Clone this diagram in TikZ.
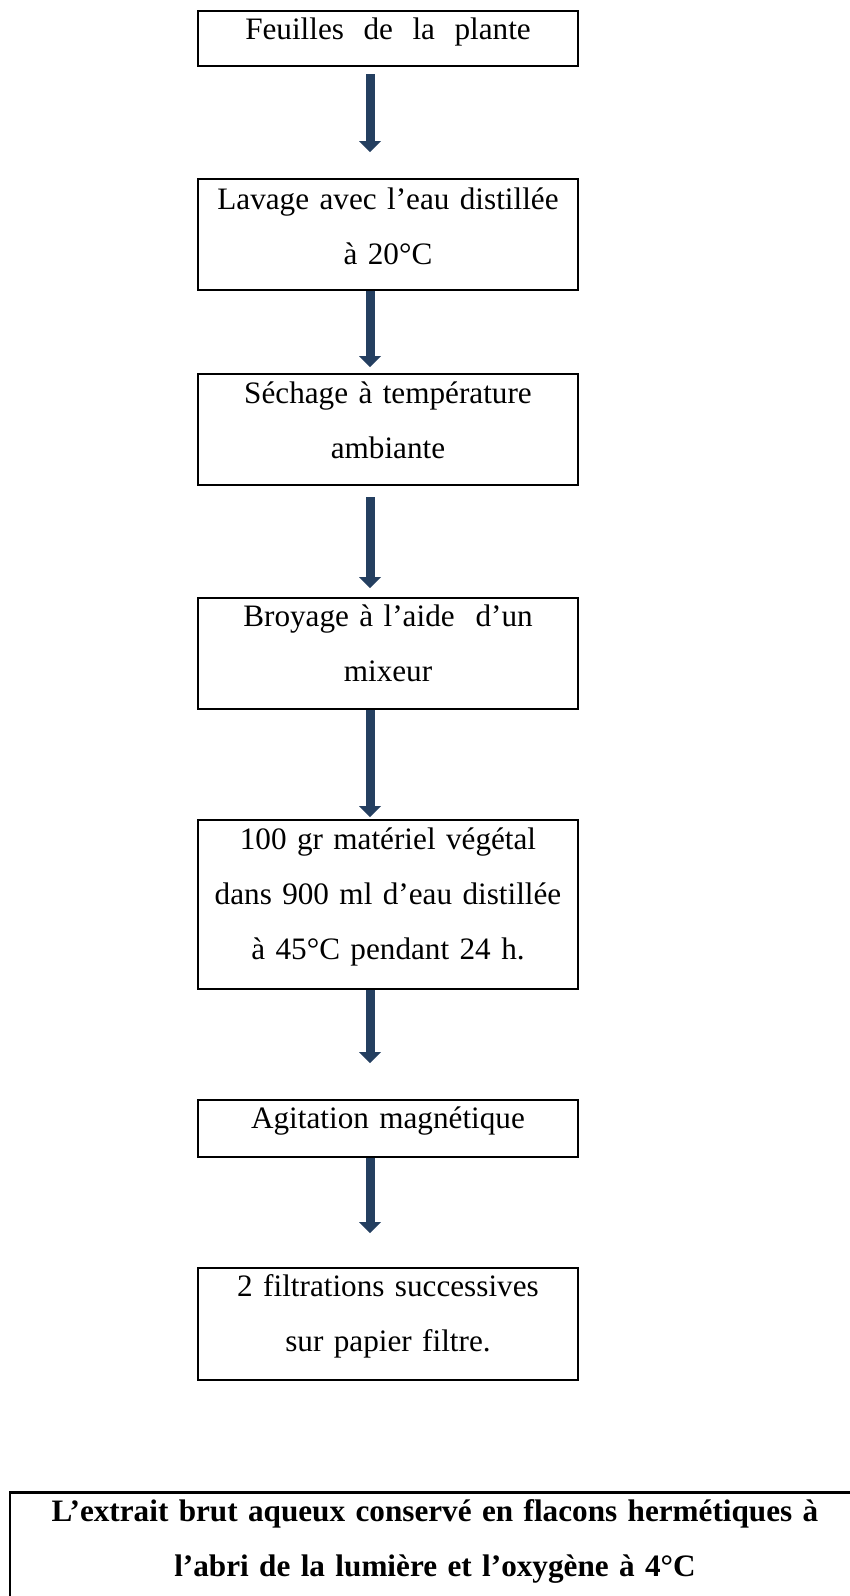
\documentclass[tikz,border=0pt]{standalone}
\usepackage{fontspec}
\setmainfont{Liberation Serif}
\usetikzlibrary{arrows.meta}
\definecolor{flownavy}{RGB}{36,63,96}
\tikzset{
  stepbox/.style={draw=black, line width=2pt, inner sep=0pt, anchor=north,
    text width=380pt, align=center, font=\fontsize{31.2}{55}\selectfont},
  flowarrow/.style={draw=flownavy, line width=9pt,
    -{Triangle[width=22pt,length=11pt,line width=0pt]}},
}
\begin{document}
\begin{tikzpicture}[x=1pt,y=-1pt]
  \useasboundingbox (0,0) rectangle (850,1596);
  \clip (0,0) rectangle (850,1596);

  % process steps
  \node[stepbox, text height=28pt, text depth=27pt] (b1) at (388,10)
    {{\spaceskip=19.5pt Feuilles de la plante}};
  \node[stepbox, text height=30pt, text depth=81pt] (b2) at (388,178)
    {Lavage avec l’eau distillée\\à 20°C};
  \node[stepbox, text height=29pt, text depth=82pt] (b3) at (388,373)
    {Séchage à température\\ambiante};
  \node[stepbox, text height=28pt, text depth=83pt] (b4) at (388,597)
    {Broyage à l’aide \ d’un\\mixeur};
  \node[stepbox, text height=29pt, text depth=140pt] (b5) at (388,819)
    {100 gr matériel végétal\\dans 900 ml d’eau distillée\\à 45°C pendant 24 h.};
  \node[stepbox, text height=28pt, text depth=29pt] (b6) at (388,1099)
    {Agitation magnétique};
  \node[stepbox, text height=28pt, text depth=84pt] (b7) at (388,1267)
    {2 filtrations successives\\sur papier filtre.};

  % final product
  \node[stepbox, line width=2.5pt, text width=850pt,
        font=\fontsize{31.2}{55}\selectfont\bfseries,
        text height=29pt, text depth=83pt] (b8) at (435,1491)
    {L’extrait brut aqueux conservé en flacons hermétiques à\\l’abri de la lumière et l’oxygène à 4°C};

  % block arrows between the steps
  \draw[flowarrow] ([xshift=-18pt,yshift=-7pt]b1.south) -- ([xshift=-18pt,yshift=26pt]b2.north);
  \draw[flowarrow] ([xshift=-18pt]b2.south) -- ([xshift=-18pt,yshift=6pt]b3.north);
  \draw[flowarrow] ([xshift=-18pt,yshift=-11pt]b3.south) -- ([xshift=-18pt,yshift=9pt]b4.north);
  \draw[flowarrow] ([xshift=-18pt]b4.south) -- ([xshift=-18pt,yshift=2pt]b5.north);
  \draw[flowarrow] ([xshift=-18pt]b5.south) -- ([xshift=-18pt,yshift=36pt]b6.north);
  \draw[flowarrow] ([xshift=-18pt]b6.south) -- ([xshift=-18pt,yshift=34pt]b7.north);
\end{tikzpicture}
\end{document}
